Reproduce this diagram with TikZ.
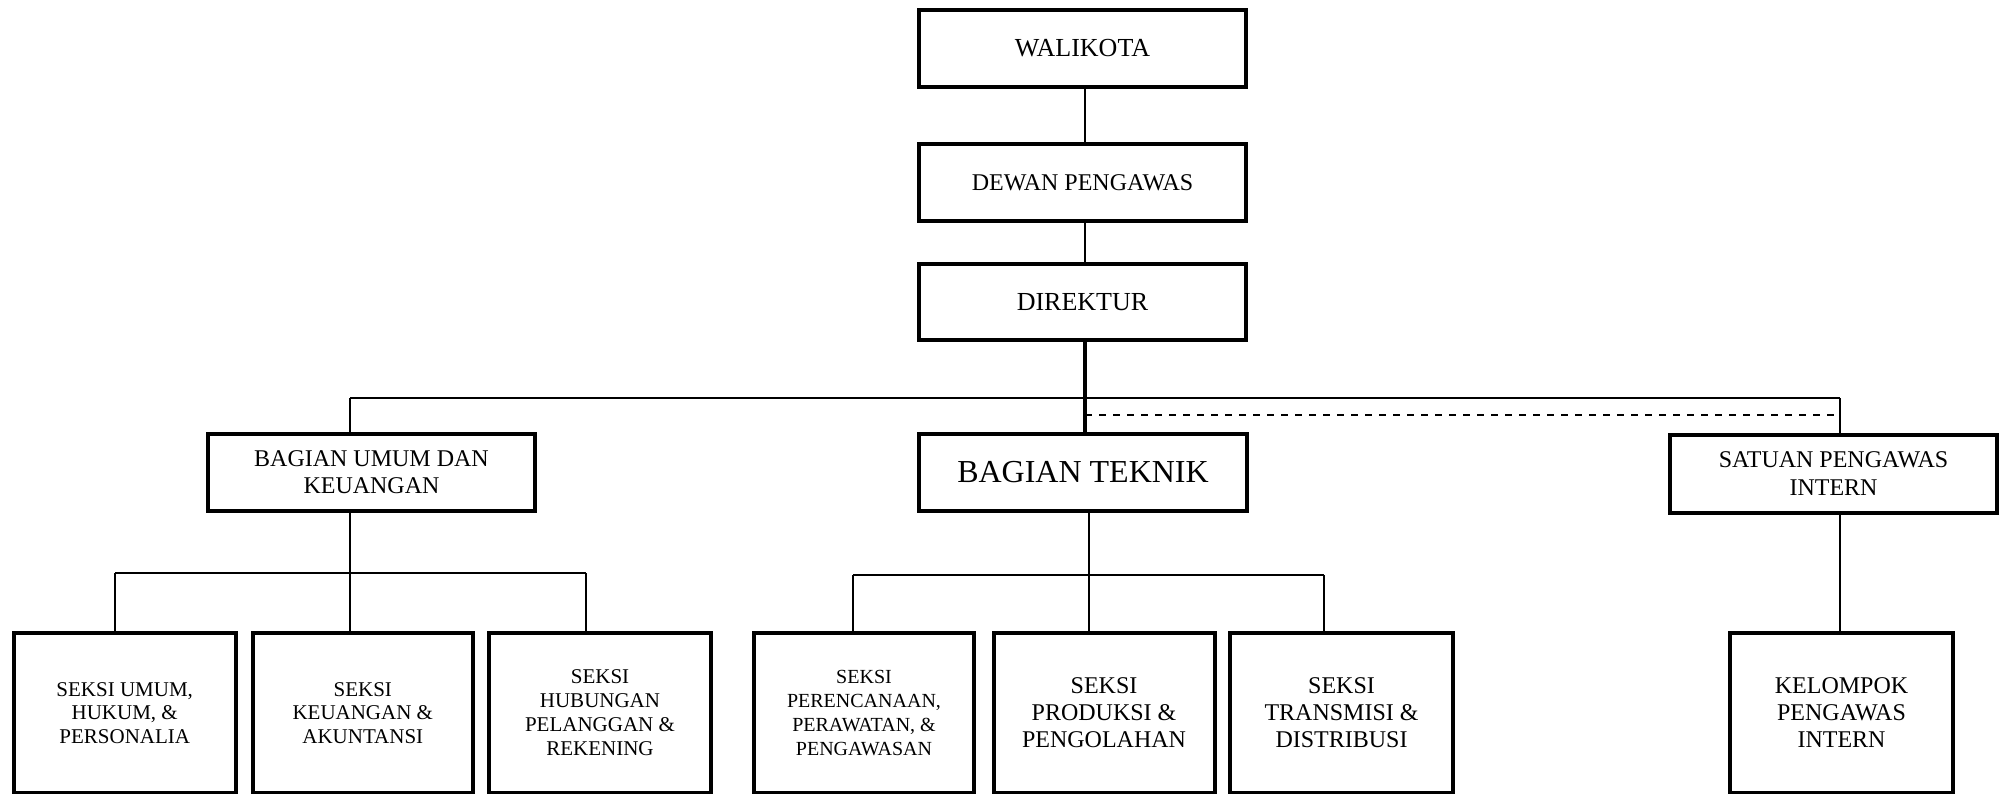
\documentclass[tikz,border=0pt]{standalone}
\usepackage{fontspec}
\setmainfont{Liberation Serif}
\begin{document}
\begin{tikzpicture}[x=0.5pt,y=-0.5pt,
  box/.style={draw=black,line width=2pt,rectangle,inner sep=0pt,outer sep=0pt,align=center,fill=white},
  conn/.style={draw=black,line width=0.95pt},
  mainconn/.style={draw=black,line width=1.8pt},
  dashconn/.style={draw=black,line width=0.95pt,dash pattern=on 3.5pt off 3.5pt}]
\useasboundingbox[fill=white] (0,0) rectangle (2002,793);

% top chain
\node[box,minimum width=163.5pt,minimum height=38.5pt,font=\fontsize{13}{15}\selectfont] (walikota) at (1082.5,48.5) {WALIKOTA};
\node[box,minimum width=163.5pt,minimum height=38.5pt,font=\fontsize{12}{14}\selectfont] (dewan) at (1082.5,182.5) {DEWAN PENGAWAS};
\node[box,minimum width=163.5pt,minimum height=38pt,font=\fontsize{13}{15}\selectfont] (direktur) at (1082.5,302) {DIREKTUR};

% second row
\node[box,minimum width=163.5pt,minimum height=38.5pt,font=\fontsize{12}{13.5}\selectfont] (umum) at (371.5,472.5) {BAGIAN UMUM DAN\\KEUANGAN};
\node[box,minimum width=164pt,minimum height=38.5pt,font=\fontsize{16}{18}\selectfont] (teknik) at (1083,472.5) {BAGIAN TEKNIK};
\node[box,minimum width=163.5pt,minimum height=39pt,font=\fontsize{12}{14}\selectfont] (spi) at (1833.5,474) {SATUAN PENGAWAS\\INTERN};

% third row
\node[box,minimum width=110.75pt,minimum height=80pt,font=\fontsize{10.5}{11.75}\selectfont] (s1) at (124.75,713) {SEKSI UMUM,\\HUKUM, \&\\PERSONALIA};
\node[box,minimum width=110pt,minimum height=80pt,font=\fontsize{10.5}{11.75}\selectfont] (s2) at (362.8,713) {SEKSI\\KEUANGAN \&\\AKUNTANSI};
\node[box,minimum width=111pt,minimum height=80pt,font=\fontsize{10.5}{12}\selectfont] (s3) at (600,713) {SEKSI\\HUBUNGAN\\PELANGGAN \&\\REKENING};
\node[box,minimum width=110pt,minimum height=80pt,font=\fontsize{10}{12}\selectfont] (t1) at (864,713) {SEKSI\\PERENCANAAN,\\PERAWATAN, \&\\PENGAWASAN};
\node[box,minimum width=110.5pt,minimum height=80pt,font=\fontsize{12}{13.5}\selectfont] (t2) at (1104,713) {SEKSI\\PRODUKSI \&\\PENGOLAHAN};
\node[box,minimum width=111.5pt,minimum height=80pt,font=\fontsize{12}{13.5}\selectfont] (t3) at (1341.5,713) {SEKSI\\TRANSMISI \&\\DISTRIBUSI};
\node[box,minimum width=111.5pt,minimum height=80pt,font=\fontsize{12}{13.5}\selectfont] (kpi) at (1841.5,713) {KELOMPOK\\PENGAWAS\\INTERN};

% junction coordinates
\coordinate (jT) at (1085,398);
\coordinate (jL) at (350,398);
\coordinate (jR) at (1840,398);
\coordinate (dL) at (1085,415);
\coordinate (dR) at (1840,415);
\coordinate (uL) at (115,573);
\coordinate (uM) at (350,573);
\coordinate (uR) at (586,573);
\coordinate (tL) at (853,575);
\coordinate (tM) at (1089,575);
\coordinate (tR) at (1324,575);

\begin{scope}[on background layer/.style={}]
% top chain connectors
\draw[conn] (jT |- walikota.south) -- (jT |- dewan.north);
\draw[conn] (jT |- dewan.south) -- (jT |- direktur.north);
% top branch
\draw[conn] (jL) -- (jR);
\draw[conn] (jL) -- (jL |- umum.north);
\draw[conn] (jR) -- (jR |- spi.north);
\draw[dashconn] (dL) -- (dR);
\draw[mainconn] (jT |- direktur.south) -- (jT |- teknik.north);

% umum branch
\draw[conn] (uM |- umum.south) -- (uM);
\draw[conn] (uL) -- (uR);
\draw[conn] (uL) -- (uL |- s1.north);
\draw[conn] (uM) -- (uM |- s2.north);
\draw[conn] (uR) -- (uR |- s3.north);

% teknik branch
\draw[conn] (tM |- teknik.south) -- (tM);
\draw[conn] (tL) -- (tR);
\draw[conn] (tL) -- (tL |- t1.north);
\draw[conn] (tM) -- (tM |- t2.north);
\draw[conn] (tR) -- (tR |- t3.north);

% intern branch
\draw[conn] (jR |- spi.south) -- (jR |- kpi.north);
\end{scope}
\end{tikzpicture}
\end{document}
